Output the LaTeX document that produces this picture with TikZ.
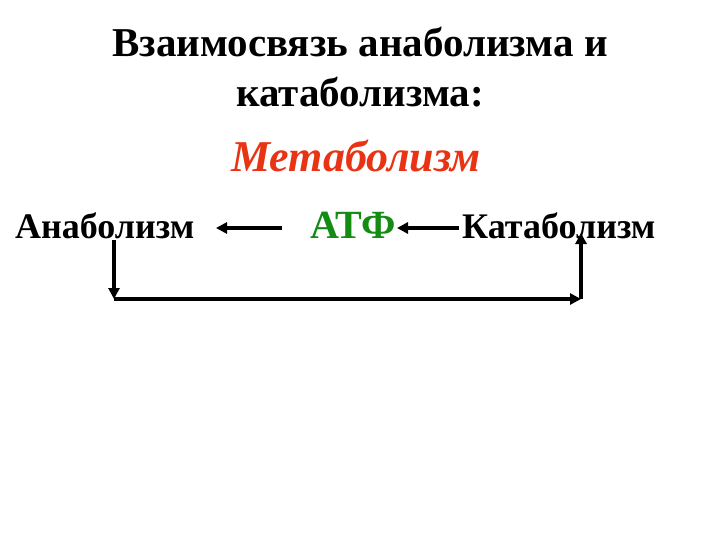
\documentclass[tikz,border=0pt]{standalone}
\usepackage{fontspec}
\setmainfont{Liberation Serif}
\usetikzlibrary{arrows.meta}
\definecolor{metred}{RGB}{232,52,20}
\definecolor{atpgreen}{RGB}{20,140,20}
\tikzset{
  txt/.style={inner sep=0pt, font=\bfseries},
  conn/.style={line width=3.5pt, -{Triangle[length=11pt,width=11pt]}},
}
\begin{document}
\begin{tikzpicture}[x=1pt,y=-1pt]
\useasboundingbox (0,0) rectangle (720,540);
\node[txt, anchor=base, font=\fontsize{41}{48}\selectfont\bfseries] (t1) at (360,57) {Взаимосвязь анаболизма и};
\node[txt, anchor=base, font=\fontsize{41}{48}\selectfont\bfseries] (t2) at (360,107) {катаболизма:};
\node[txt, anchor=base, text=metred, font=\fontsize{44}{50}\selectfont\bfseries\itshape] (met) at (356,172) {Метаболизм};
\node[txt, anchor=base west, font=\fontsize{36}{42}\selectfont\bfseries] (ana) at (15,239) {Анаболизм};
\node[txt, anchor=base west, text=atpgreen, font=\fontsize{40}{46}\selectfont\bfseries] (atp) at (310,239) {АТФ};
\node[txt, anchor=base west, font=\fontsize{36}{42}\selectfont\bfseries] (kat) at (462,239) {Катаболизм};
\coordinate (a1s) at (282,228);
\coordinate (a1e) at (216,228);
\coordinate (a2s) at (459,228);
\coordinate (a2e) at (397,228);
\coordinate (l1) at (114,240);
\coordinate (l2) at (114,299);
\coordinate (r2) at (581,299);
\coordinate (r1) at (581,233);
\draw[conn] (a1s) -- (a1e);
\draw[conn] (a2s) -- (a2e);
\draw[conn] (l1) -- (l2);
\draw[conn] (l2) -- (r2);
\draw[conn] (r2) -- (r1);
\end{tikzpicture}
\end{document}
